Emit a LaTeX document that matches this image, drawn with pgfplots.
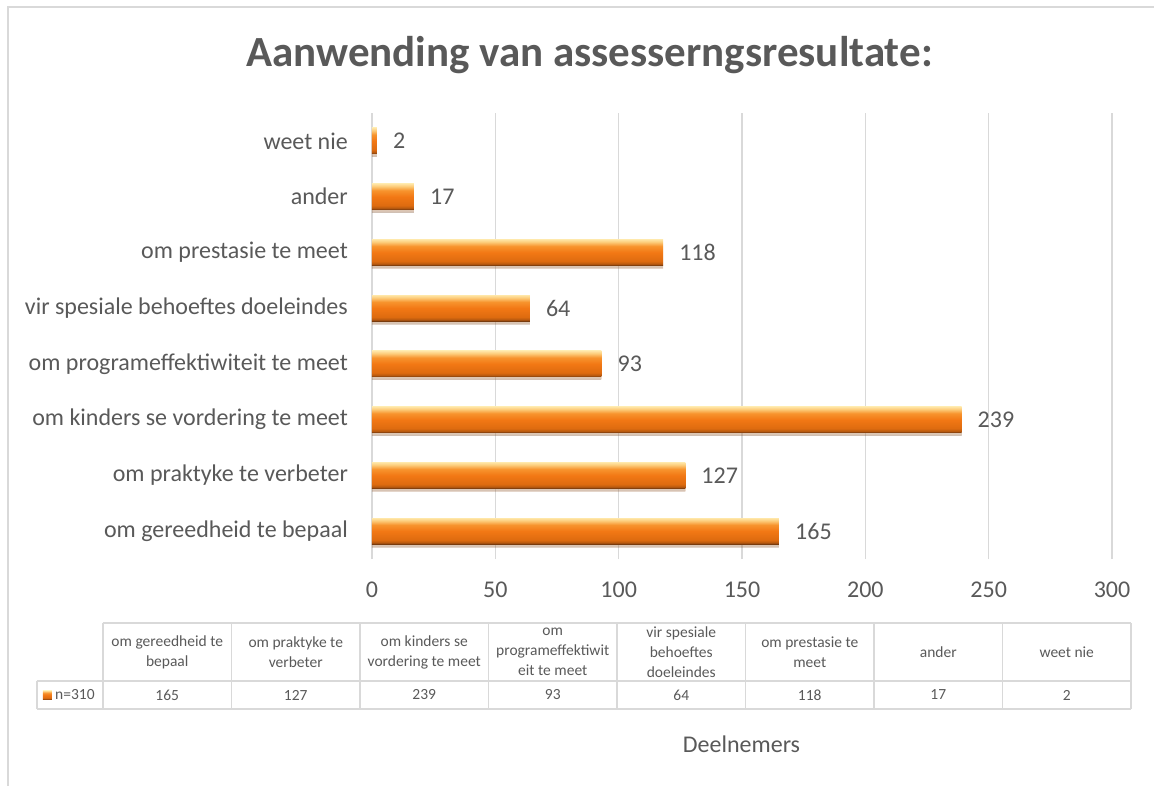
\documentclass[border=0pt]{standalone}
\usepackage{fontspec}
\setmainfont{Carlito}
\usepackage{pgfplots}
\pgfplotsset{compat=1.18}
\usetikzlibrary{shadows}
\definecolor{txt}{HTML}{595959}
\definecolor{gridc}{HTML}{D9D9D9}
\pgfdeclareverticalshading{barshade}{100bp}{%
rgb(0bp)=(0.45,0.22,0.05);
rgb(25bp)=(0.45,0.22,0.05);
rgb(28bp)=(0.72,0.35,0.06);
rgb(33bp)=(0.87,0.42,0.06);
rgb(50bp)=(0.95,0.47,0.08);
rgb(62bp)=(0.97,0.58,0.18);
rgb(70bp)=(0.99,0.80,0.48);
rgb(75bp)=(1.00,0.90,0.65);
rgb(100bp)=(1.00,0.90,0.65)}
\newcommand{\lbl}{\fontsize{24}{29}\selectfont}
\newcommand{\tbl}{\fontsize{15.5}{20}\selectfont}
\pgfplotsset{onebar/.style={xbar, bar width=26pt, bar shift=0pt, shading=barshade, draw=none,
  drop shadow={shadow xshift=0pt, shadow yshift=-3pt, opacity=0.22}}}
\begin{document}
\begin{tikzpicture}[x=1pt,y=1pt]
\useasboundingbox (-372,-226) rectangle (782,559);
\draw[gridc, line width=2pt] (-364,-240) -- (-364,552) -- (800,552);
\begin{axis}[
  at={(0pt,0pt)}, anchor=south west,
  scale only axis, width=740pt, height=446pt,
  xmin=0, xmax=300, ymin=-0.5, ymax=7.5,
  xtick={0,50,...,300},
  ytick={0,...,7},
  yticklabels={om gereedheid te bepaal, om praktyke te verbeter, om kinders se vordering te meet, om programeffektiwiteit te meet, vir spesiale behoeftes doeleindes, om prestasie te meet, ander, weet nie},
  xmajorgrids,
  grid style={gridc, line width=1.3pt},
  axis line style={draw=none},
  tick style={draw=none},
  major tick length=0pt,
  /pgf/number format/assume math mode=true,
  ticklabel style={font=\lbl, text=txt},
  xticklabel style={anchor=base, yshift=-38pt},
  yticklabel style={anchor=east, inner sep=0pt, xshift=-24pt},
  clip=false,
]
\addplot[onebar] coordinates {(165,0)};
\addplot[onebar] coordinates {(127,1)};
\addplot[onebar] coordinates {(239,2)};
\addplot[onebar] coordinates {(93,3)};
\addplot[onebar] coordinates {(64,4)};
\addplot[onebar] coordinates {(118,5)};
\addplot[onebar] coordinates {(17,6)};
\addplot[onebar] coordinates {(2,7)};
\addplot[draw=none, mark=none, nodes near coords, point meta=x,
  every node near coord/.append style={anchor=west, inner sep=0pt, xshift=16pt, font=\lbl, text=txt}]
  coordinates {(165,0) (127,1) (239,2) (93,3) (64,4) (118,5) (17,6) (2,7)};
\end{axis}
% title and axis title
\node[font=\bfseries\fontsize{43}{48}\selectfont, text=txt, anchor=base] at (217.5,492) {Aanwending van assesserngsresultate:};
\node[font=\lbl, text=txt, anchor=base] at (369.5,-193) {Deelnemers};
% data table
\begin{scope}[gridc, line width=1.5pt]
\draw (-269,-64) -- (759,-64);
\draw (-335,-122) -- (759,-122);
\draw (-335,-150) -- (759,-150);
\draw (-335,-122) -- (-335,-150);
\foreach \k in {0,...,8} \draw ({-269+\k*128.5},-64) -- ({-269+\k*128.5},-150);
\end{scope}
\begin{scope}[every node/.style={align=center, font=\tbl, text=txt}]
\node at ({-269+0.5*128.5},-93) {om gereedheid te\\bepaal};
\node at ({-269+1.5*128.5},-93) {om praktyke te\\verbeter};
\node at ({-269+2.5*128.5},-93) {om kinders se\\vordering te meet};
\node at ({-269+3.5*128.5},-93) {om\\programeffektiwit\\eit te meet};
\node at ({-269+4.5*128.5},-93) {vir spesiale\\behoeftes\\doeleindes};
\node at ({-269+5.5*128.5},-93) {om prestasie te\\meet};
\node at ({-269+6.5*128.5},-93) {ander};
\node at ({-269+7.5*128.5},-93) {weet nie};
\foreach \k/\v in {0/165,1/127,2/239,3/93,4/64,5/118,6/17,7/2}
  \node at ({-269+(\k+0.5)*128.5},-136) {\v};
\node[anchor=west, inner sep=0pt] at (-317,-136) {n=310};
\end{scope}
\shade[shading=barshade] (-329,-140.5) rectangle (-320,-131.5);
\end{tikzpicture}
\end{document}
